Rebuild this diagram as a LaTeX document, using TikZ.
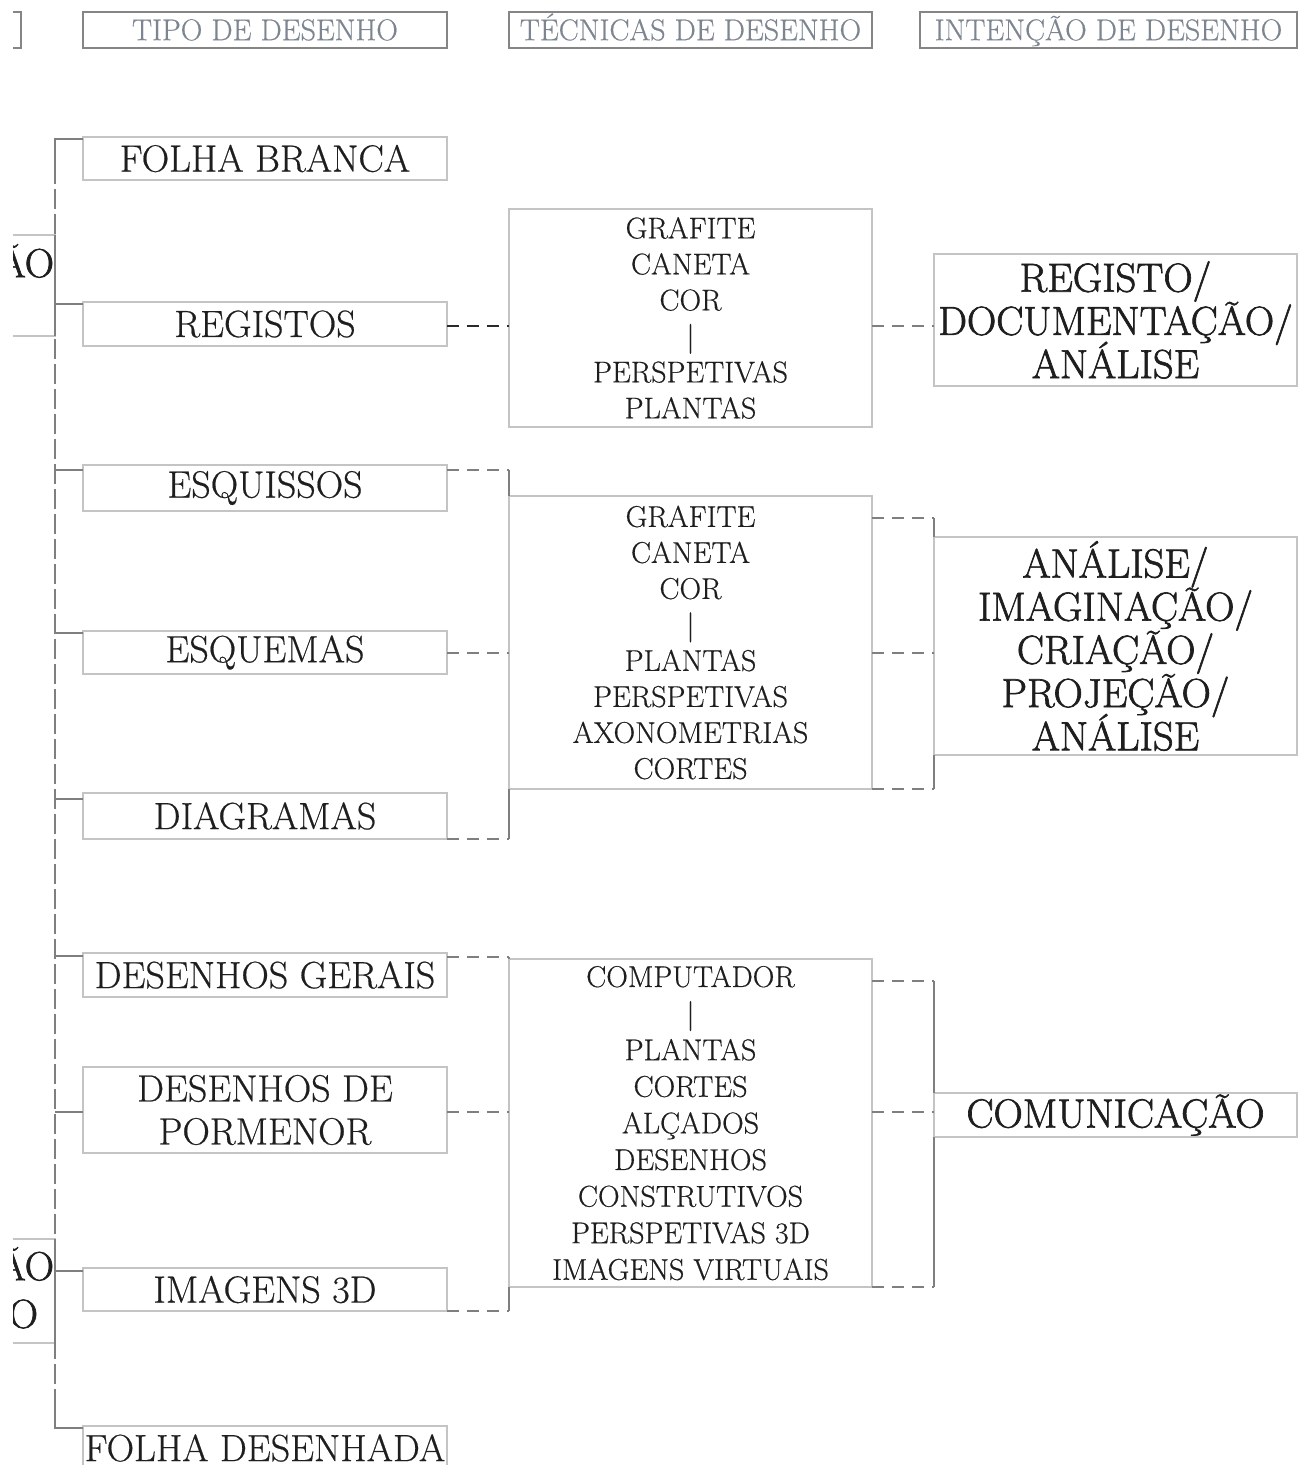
\documentclass[tikz,border=0pt]{standalone}
\usepackage{fontspec}
\setmainfont{Latin Modern Roman}[FakeBold=0.5]
\newfontfamily\heavy{Latin Modern Roman}[FakeBold=1.6]
\usetikzlibrary{calc}
\definecolor{boxc}{HTML}{C4C4C4}
\definecolor{linec}{HTML}{7F7F7F}
\definecolor{darkc}{HTML}{2A2A2A}
\definecolor{txtc}{HTML}{1E1E1E}
\definecolor{hdrt}{HTML}{7C8590}
\definecolor{hdrb}{HTML}{858585}
\newcommand\nolskip{\lineskiplimit=-20pt\relax}
\begin{document}
\begin{tikzpicture}[x=0.5pt,y=-0.5pt,
 every node/.style={inner sep=0pt, outer sep=0pt},
 hdr/.style={draw=hdrb, line width=1pt, minimum height=18pt, text height=10.2pt, text depth=0pt, text=hdrt, font=\fontsize{15}{16}\selectfont},
 lbox/.style={draw=boxc, line width=1pt, minimum width=182pt, text=txtc, align=center, font=\fontsize{19}{21.5}\selectfont\nolskip},
 mbox/.style={draw=boxc, line width=1pt, minimum width=181.5pt, text=txtc, align=center, font=\fontsize{15}{18}\selectfont\nolskip},
 rbox/.style={draw=boxc, line width=1pt, minimum width=181.5pt, text=txtc, align=center, font=\heavy\fontsize{20.3}{21.6}\selectfont\nolskip},
 ptxt/.style={text=txtc, font=\heavy\fontsize{20.3}{21.7}\selectfont},
 trunk/.style={draw=linec, line width=1pt, dash pattern=on 10pt off 2.5pt},
 elbow/.style={draw=linec, line width=1pt},
 dcon/.style={draw=linec, line width=1pt, dash pattern=on 6pt off 4pt},
 dkcon/.style={draw=darkc, line width=1pt, dash pattern=on 6pt off 4pt}
]
\useasboundingbox (0,0) rectangle (1302,1465);
\clip (0,0) rectangle (1302,1465);

% partial elements cut by the left edge
\begin{scope}
\clip (13,0) rectangle (60,1465);
\node[hdr, minimum width=100pt, anchor=east] (h0) at (21,30) {};
\draw[boxc, line width=1pt] (-200,235) rectangle (55,336);
\node[ptxt, anchor=east] (p1) at (54,261) {ÃO};
\draw[boxc, line width=1pt] (-200,1239) rectangle (55,1343);
\node[ptxt, anchor=east] (p2) at (54,1264) {ÃO};
\node[ptxt, anchor=east] (p3) at (38,1314) {O};
\end{scope}

% headers
\node[hdr, minimum width=182pt] (h1) at (265,30) {TIPO DE DESENHO};
\node[hdr, minimum width=181.5pt] (h2) at (690.5,30) {TÉCNICAS DE DESENHO};
\node[hdr, minimum width=188.5pt] (h3) at (1108.5,30) {INTENÇÃO DE DESENHO};

% left column
\node[lbox, minimum height=21.5pt] (fb) at (265,158.5) {FOLHA BRANCA};
\node[lbox, minimum height=22pt] (reg) at (265,324) {REGISTOS};
\node[lbox, minimum height=23pt] (esq) at (265,488) {ESQUISSOS};
\node[lbox, minimum height=21.5pt] (esm) at (265,652.5) {ESQUEMAS};
\node[lbox, minimum height=23pt] (dia) at (265,816) {DIAGRAMAS};
\node[lbox, minimum height=22pt] (dg) at (265,975) {DESENHOS GERAIS};
\node[lbox, minimum height=43pt] (dp) at (265,1110) {DESENHOS DE\\PORMENOR};
\node[lbox, minimum height=21.5pt] (i3d) at (265,1289.5) {IMAGENS 3D};
\node[lbox, minimum height=22pt] (fd) at (265,1448) {FOLHA DESENHADA};

% middle column
\node[mbox, minimum height=109pt] (t1) at (690.5,318) {GRAFITE\\CANETA\\COR\\|\\PERSPETIVAS\\PLANTAS};
\node[mbox, minimum height=146.5pt] (t2) at (690.5,642.5) {GRAFITE\\CANETA\\COR\\|\\PLANTAS\\PERSPETIVAS\\AXONOMETRIAS\\CORTES};
\node[mbox, minimum height=164pt, font=\fontsize{15}{18.3}\selectfont\nolskip] (t3) at (690.5,1123) {COMPUTADOR\\|\\PLANTAS\\CORTES\\ALÇADOS\\DESENHOS\\CONSTRUTIVOS\\PERSPETIVAS 3D\\IMAGENS VIRTUAIS};

% right column
\node[rbox, minimum height=66pt] (r1) at (1115.5,320) {REGISTO/\\DOCUMENTAÇÃO/\\ANÁLISE};
\node[rbox, minimum height=109pt] (r2) at (1115.5,646) {ANÁLISE/\\IMAGINAÇÃO/\\CRIAÇÃO/\\PROJEÇÃO/\\ANÁLISE};
\node[rbox, minimum height=22pt] (r3) at (1115.5,1115) {COMUNICAÇÃO};

% trunk
\coordinate (ttop) at (55,139);
\coordinate (tbot) at (55,1428);
\draw[trunk] (ttop) -- (tbot);
\draw[elbow] ([yshift=-1pt]fb.north west) -- (ttop) -- ++(0,44);
\draw[elbow] ([yshift=-1pt]fd.north west) -- (tbot) -- ++(0,-22);
\draw[elbow] (55,235) -- (55,336);
\draw[elbow] (55,1239) -- (55,1343);
\foreach \n/\s in {reg/1pt, esq/2.5pt, esm/1pt, dia/3pt, dg/1.5pt, i3d/1.5pt}
  \draw[elbow] ([yshift=-\s]\n.north west) -- ++(-28,0);
\draw[elbow] ([yshift=-1pt]dp.west) -- ++(-28,0);

% registos
\draw[dkcon] ([yshift=-1pt]reg.east) -- ([yshift=-1pt]reg.east -| t1.west);
\draw[dcon] ([yshift=-1pt]reg.east -| t1.east) -- ([yshift=-1pt]reg.east -| r1.west);

% group 2 left
\coordinate (a1) at ([yshift=-2.5pt]esq.north east);
\draw[dcon] (a1) -- (a1 -| t2.west);
\draw[elbow] (a1 -| t2.west) -- (t2.north west);
\draw[dcon] (esm.east) -- (esm.east -| t2.west);
\draw[dcon] (dia.south east) -- (dia.south east -| t2.west);
\draw[elbow] (dia.south east -| t2.west) -- (t2.south west);
% group 2 right
\coordinate (b1) at ([yshift=-11pt]t2.north east);
\draw[dcon] (b1) -- (b1 -| r2.west);
\draw[elbow] (b1 -| r2.west) -- (r2.north west);
\draw[dcon] (esm.east -| t2.east) -- (esm.east -| r2.west);
\draw[dcon] (t2.south east) -- (t2.south east -| r2.west);
\draw[elbow] (t2.south east -| r2.west) -- (r2.south west);

% group 3 left
\coordinate (c1) at ([yshift=-2pt]dg.north east);
\draw[dcon] (c1) -- (c1 -| t3.west);
\draw[elbow] (c1 -| t3.west) -- (t3.north west);
\draw[dcon] ([yshift=-1pt]dp.east) -- ([yshift=-1pt]dp.east -| t3.west);
\draw[dcon] (i3d.south east) -- (i3d.south east -| t3.west);
\draw[elbow] (i3d.south east -| t3.west) -- (t3.south west);
% group 3 right
\coordinate (d1) at ([yshift=-11pt]t3.north east);
\draw[dcon] (d1) -- (d1 -| r3.west);
\draw[elbow] (d1 -| r3.west) -- (r3.north west);
\draw[dcon] ([yshift=-1pt]dp.east -| t3.east) -- ([yshift=-1pt]dp.east -| r3.west);
\draw[dcon] (t3.south east) -- (t3.south east -| r3.west);
\draw[elbow] (t3.south east -| r3.west) -- (r3.south west);
\end{tikzpicture}
\end{document}
